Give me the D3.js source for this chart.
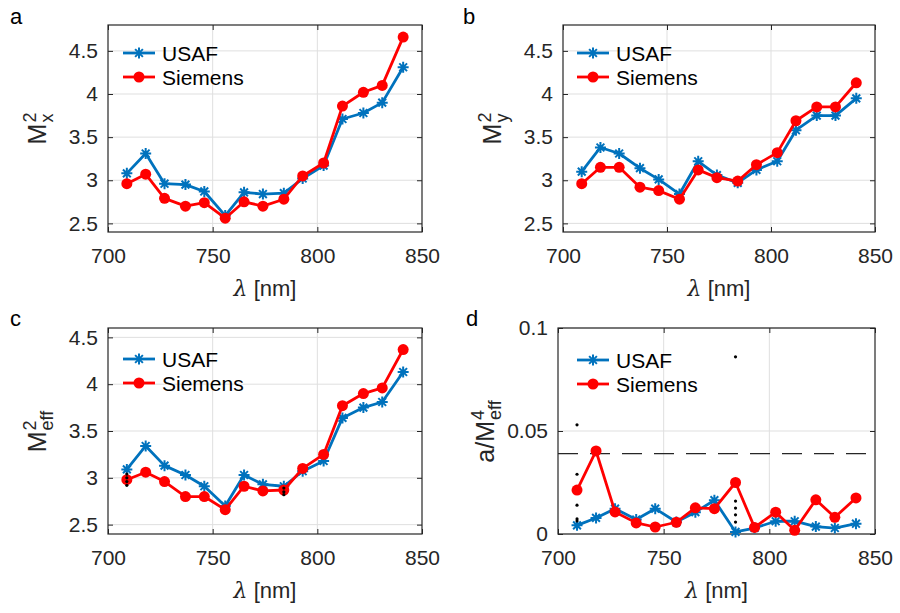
<!DOCTYPE html>
<html>
<head>
<meta charset="utf-8">
<script src="https://cdn.jsdelivr.net/npm/d3@7"></script>
<style>
  html, body { margin: 0; padding: 0; background: #fff; }
  svg { display: block; font-family: "Liberation Sans", Arial, Helvetica, sans-serif; }
</style>
</head>
<body>
<svg id="fig" width="900" height="613"></svg>
<script>
// Wavelength sampling (nm)
const wavelength = [709, 718, 727, 737, 746, 756, 765, 774, 784, 793, 803, 812, 822, 831, 841];

// Beam quality factors per wavelength
const usafMx = [3.08, 3.31, 2.96, 2.95, 2.87, 2.59, 2.86, 2.84, 2.85, 3.02, 3.17, 3.71, 3.78, 3.90, 4.31];
const siemensMx = [2.96, 3.07, 2.79, 2.70, 2.74, 2.56, 2.75, 2.70, 2.78, 3.05, 3.20, 3.86, 4.02, 4.10, 4.66];

const usafMy = [3.10, 3.38, 3.31, 3.14, 3.01, 2.84, 3.22, 3.06, 2.97, 3.12, 3.22, 3.58, 3.75, 3.75, 3.95];
const siemensMy = [2.96, 3.15, 3.15, 2.92, 2.88, 2.78, 3.12, 3.03, 2.99, 3.18, 3.32, 3.69, 3.85, 3.85, 4.13];

const usafMeff = [3.09, 3.34, 3.13, 3.03, 2.91, 2.70, 3.03, 2.93, 2.91, 3.07, 3.18, 3.64, 3.75, 3.81, 4.13];
const siemensMeff = [2.98, 3.06, 2.96, 2.80, 2.80, 2.66, 2.91, 2.86, 2.87, 3.10, 3.25, 3.77, 3.90, 3.96, 4.37];

const usafA = [0.0042, 0.0078, 0.0123, 0.0070, 0.0123, 0.0058, 0.0106, 0.0164, 0.0010, 0.0029, 0.0062, 0.0062, 0.0036, 0.0029, 0.0050];
const siemensA = [0.0213, 0.0403, 0.0107, 0.0054, 0.0034, 0.0057, 0.0127, 0.0123, 0.0250, 0.0032, 0.0106, 0.0018, 0.0166, 0.0081, 0.0175];

// Threshold drawn as dashed line in panel d
const aThreshold = 0.039;

// Individual sample points (wavelength, value)
const samplesMeff = [[709, 3.04], [709, 3.00], [709, 2.96], [709, 2.92], [784, 2.89], [784, 2.85], [784, 2.82]];
const samplesA = [[709, 0.053], [709, 0.029], [709, 0.014], [709, 0.0073], [709, 0.0063],
                  [784, 0.086], [784, 0.016], [784, 0.0126], [784, 0.0093], [784, 0.0058]];

// Axis ticks
const xTicks = [700, 750, 800, 850];
const mTicks = [2.5, 3, 3.5, 4, 4.5];
const aTicks = [0, 0.05, 0.1];
const aTickLabels = ["0", "0.05", "0.1"];

const seriesNames = ["USAF", "Siemens"];

const BLUE = "#0072BD";
const RED = "#FF0000";
const AXIS = "#262626";
const GRID = "#DFDFDF";

const svg = d3.select("#fig");

const panels = [
  { key: "a", box: [108, 422, 25, 232], yDomain: [2.4, 4.8], yTicks: mTicks, yFmt: d => String(d),
    usaf: usafMx, siemens: siemensMx, label: ["M", "2", "x"], letterPos: [10, 24], legend: [123, 53] },
  { key: "b", box: [563, 875, 25, 232], yDomain: [2.4, 4.8], yTicks: mTicks, yFmt: d => String(d),
    usaf: usafMy, siemens: siemensMy, label: ["M", "2", "y"], letterPos: [463, 24], legend: [577, 53] },
  { key: "c", box: [108, 422, 328, 534], yDomain: [2.4, 4.6], yTicks: mTicks, yFmt: d => String(d),
    usaf: usafMeff, siemens: siemensMeff, label: ["M", "2", "eff"], letterPos: [10, 326], legend: [123, 359],
    samples: samplesMeff },
  { key: "d", box: [558, 875, 328, 534], yDomain: [0, 0.1], yTicks: aTicks, yFmt: (d, i) => aTickLabels[i],
    usaf: usafA, siemens: siemensA, label: ["a/M", "4", "eff"], letterPos: [466, 326], legend: [577, 360],
    samples: samplesA, threshold: aThreshold }
];

function asteriskPath(s) {
  const d = s * 0.7071;
  return `M${-s},0L${s},0M0,${-s}L0,${s}M${-d},${-d}L${d},${d}M${-d},${d}L${d},${-d}`;
}

panels.forEach(p => {
  const [x0, x1, y0, y1] = p.box;
  const x = d3.scaleLinear().domain([700, 850]).range([x0, x1]);
  const y = d3.scaleLinear().domain(p.yDomain).range([y1, y0]);
  const g = svg.append("g").attr("class", "panel-" + p.key);

  // grid
  g.append("g").selectAll("line").data(xTicks.filter(t => t > 700 && t < 850)).join("line")
    .attr("x1", d => x(d)).attr("x2", d => x(d)).attr("y1", y0).attr("y2", y1)
    .attr("stroke", GRID).attr("stroke-width", 1);
  g.append("g").selectAll("line").data(p.yTicks).join("line")
    .attr("x1", x0).attr("x2", x1).attr("y1", d => y(d)).attr("y2", d => y(d))
    .attr("stroke", GRID).attr("stroke-width", 1);

  // axes with inward ticks
  const tick = 5;
  const xAxisB = d3.axisBottom(x).tickValues(xTicks).tickSize(-tick).tickPadding(16).tickFormat(d3.format("d"));
  const xAxisT = d3.axisTop(x).tickValues(xTicks).tickSize(-tick).tickFormat("");
  const yAxisL = d3.axisLeft(y).tickValues(p.yTicks).tickSize(-tick).tickPadding(10).tickFormat(p.yFmt);
  const yAxisR = d3.axisRight(y).tickValues(p.yTicks).tickSize(-tick).tickFormat("");
  const axes = [
    g.append("g").attr("transform", `translate(0,${y1})`).call(xAxisB),
    g.append("g").attr("transform", `translate(0,${y0})`).call(xAxisT),
    g.append("g").attr("transform", `translate(${x0},0)`).call(yAxisL),
    g.append("g").attr("transform", `translate(${x1},0)`).call(yAxisR)
  ];
  axes.forEach(a => {
    a.select(".domain").remove();
    a.selectAll(".tick line").attr("stroke", AXIS).attr("stroke-width", 1);
    a.selectAll(".tick text").attr("fill", AXIS).attr("font-size", 21)
      .attr("font-family", "Liberation Sans, Arial, sans-serif");
  });
  g.append("rect").attr("x", x0).attr("y", y0).attr("width", x1 - x0).attr("height", y1 - y0)
    .attr("fill", "none").attr("stroke", AXIS).attr("stroke-width", 1.2);

  // threshold
  if (p.threshold !== undefined) {
    g.append("line").attr("x1", x0).attr("x2", x1).attr("y1", y(p.threshold)).attr("y2", y(p.threshold))
      .attr("stroke", AXIS).attr("stroke-width", 1.4).attr("stroke-dasharray", "20,12");
  }

  // series
  const line = d3.line().x((d, i) => x(wavelength[i])).y(d => y(d));
  g.append("path").datum(p.usaf).attr("d", line).attr("fill", "none")
    .attr("stroke", BLUE).attr("stroke-width", 2.8).attr("stroke-linejoin", "round");
  g.append("g").selectAll("path").data(p.usaf).join("path")
    .attr("transform", (d, i) => `translate(${x(wavelength[i])},${y(d)})`)
    .attr("d", asteriskPath(5.5)).attr("stroke", BLUE).attr("stroke-width", 2).attr("fill", "none");

  g.append("path").datum(p.siemens).attr("d", line).attr("fill", "none")
    .attr("stroke", RED).attr("stroke-width", 2.8).attr("stroke-linejoin", "round");
  g.append("g").selectAll("circle").data(p.siemens).join("circle")
    .attr("cx", (d, i) => x(wavelength[i])).attr("cy", d => y(d)).attr("r", 5.5).attr("fill", RED);

  // individual samples
  if (p.samples) {
    g.append("g").selectAll("circle").data(p.samples).join("circle")
      .attr("cx", d => x(d[0])).attr("cy", d => y(d[1])).attr("r", 1.6).attr("fill", "#000");
  }

  // x label
  g.append("text").attr("x", (x0 + x1) / 2).attr("y", y1 + 64).attr("text-anchor", "middle")
    .attr("font-size", 22).attr("fill", AXIS)
    .call(t => {
      t.append("tspan").attr("font-family", "DejaVu Serif, Liberation Serif, serif").attr("font-style", "italic").text("λ");
      t.append("tspan").text(" [nm]");
    });

  // y label: base text with stacked super/subscript, rotated
  const lab = g.append("g");
  const base = lab.append("text").attr("x", 0).attr("y", 0).attr("font-size", 25).attr("fill", AXIS).text(p.label[0]);
  const wBase = base.node().getComputedTextLength();
  lab.append("text").attr("x", wBase + 1).attr("y", -10).attr("font-size", 18).attr("fill", AXIS).text(p.label[1]);
  lab.append("text").attr("x", wBase + 1).attr("y", 7).attr("font-size", 18).attr("fill", AXIS).text(p.label[2]);
  const bb = lab.node().getBBox();
  const rightEdge = x0 - (p.key === "d" ? 53 : 51);
  const cy = (y0 + y1) / 2;
  lab.attr("transform", `translate(${rightEdge - (bb.y + bb.height)},${cy + bb.x + bb.width / 2}) rotate(-90)`);

  // panel letter
  svg.append("text").attr("x", p.letterPos[0]).attr("y", p.letterPos[1]).attr("font-size", 22)
    .attr("fill", "#000").text(p.key);

  // legend
  const [lx, ly] = p.legend;
  const leg = g.append("g");
  [[BLUE, "usaf"], [RED, "siemens"]].forEach(([col, kind], k) => {
    const yy = ly + k * 24;
    leg.append("line").attr("x1", lx).attr("x2", lx + 32).attr("y1", yy).attr("y2", yy)
      .attr("stroke", col).attr("stroke-width", 2.8);
    if (kind === "usaf") {
      leg.append("path").attr("transform", `translate(${lx + 16},${yy})`).attr("d", asteriskPath(5.5))
        .attr("stroke", col).attr("stroke-width", 2).attr("fill", "none");
    } else {
      leg.append("circle").attr("cx", lx + 16).attr("cy", yy).attr("r", 5.5).attr("fill", col);
    }
    leg.append("text").attr("x", lx + 39).attr("y", yy).attr("dy", "0.36em").attr("font-size", 21)
      .attr("fill", "#000").text(seriesNames[k]);
  });
});
</script>
</body>
</html>
